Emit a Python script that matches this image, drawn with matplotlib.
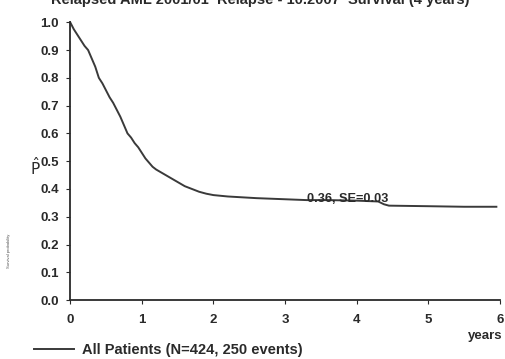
import matplotlib.pyplot as plt

# Kaplan-Meier estimate
times = [0.0, 0.02, 0.05, 0.1, 0.15, 0.2, 0.25, 0.3, 0.35, 0.4, 0.45, 0.5, 0.55, 0.6,
         0.65, 0.7, 0.75, 0.8, 0.85, 0.9, 0.95, 1.0, 1.05, 1.1, 1.15, 1.2, 1.3,
         1.4, 1.5, 1.6, 1.7, 1.8, 1.9, 2.0, 2.2, 2.4, 2.6, 2.8, 3.0, 3.3, 3.6,
         4.0, 4.3, 4.38, 4.45, 5.0, 5.5, 5.95]
surv = [1.0, 0.99, 0.975, 0.955, 0.935, 0.915, 0.9, 0.87, 0.84, 0.8, 0.78, 0.755, 0.73,
        0.71, 0.685, 0.66, 0.63, 0.6, 0.585, 0.565, 0.55, 0.53, 0.51, 0.495, 0.48,
        0.47, 0.455, 0.44, 0.425, 0.41, 0.4, 0.39, 0.383, 0.378, 0.373, 0.37,
        0.367, 0.365, 0.363, 0.36, 0.36, 0.358, 0.355, 0.345, 0.34, 0.338, 0.336, 0.336]

title = "Relapsed AML 2001/01  Relapse - 10.2007  Survival (4 years)"
legend_label = "All Patients (N=424, 250 events)"
annot = "0.36, SE=0.03"
xticks = [0, 1, 2, 3, 4, 5, 6]
yticks = [0.0, 0.1, 0.2, 0.3, 0.4, 0.5, 0.6, 0.7, 0.8, 0.9, 1.0]

plt.rcParams['font.family'] = ['Liberation Sans', 'DejaVu Sans']
ink = '#2a2a2a'

fig = plt.figure(figsize=(5.05, 3.59), dpi=100)
ax = fig.add_axes([0.139, 0.164, 0.851, 0.774])

line, = ax.plot(times, surv, color='#3a3a3a', lw=1.4, clip_on=False)

ax.set_xlim(0, 6)
ax.set_ylim(0, 1.0)
ax.set_xticks(xticks)
ax.set_yticks(yticks)
ax.set_yticklabels([f"{v:.1f}" for v in yticks])
for s in ['top', 'right']:
    ax.spines[s].set_visible(False)
for s in ['left', 'bottom']:
    ax.spines[s].set_color(ink)
    ax.spines[s].set_linewidth(1.3)
ax.tick_params(axis='both', length=3, width=0.8, color=ink, labelsize=9.5,
               labelcolor=ink)
ax.tick_params(axis='y', pad=5)
ax.tick_params(axis='x', pad=7)
for lab in ax.get_xticklabels() + ax.get_yticklabels():
    lab.set_fontweight('bold')

ax.text(3.3, 0.352, annot, fontsize=9.2, fontweight='bold', color=ink, va='baseline')

fig.text(0.07, 0.535, r"$\hat{\mathrm{P}}$", fontsize=11, color=ink, ha='center', va='center')
fig.text(0.017, 0.3, "Survival probability", fontsize=3, color='#555555',
         rotation=90, ha='center', va='center')
fig.text(0.995, 0.063, "years", fontsize=9.5, fontweight='bold', color=ink, ha='right',
         va='center')
fig.text(0.515, 1.0, title, fontsize=10.5, fontweight='bold', color=ink,
         ha='center', va='center')

fig.legend([line], [legend_label], loc='center left', bbox_to_anchor=(0.042, 0.024),
           frameon=False, prop={'size': 10.5, 'weight': 'bold'}, handlelength=2.7,
           handletextpad=0.6, labelcolor=ink)

fig.savefig('out.png', dpi=100)
